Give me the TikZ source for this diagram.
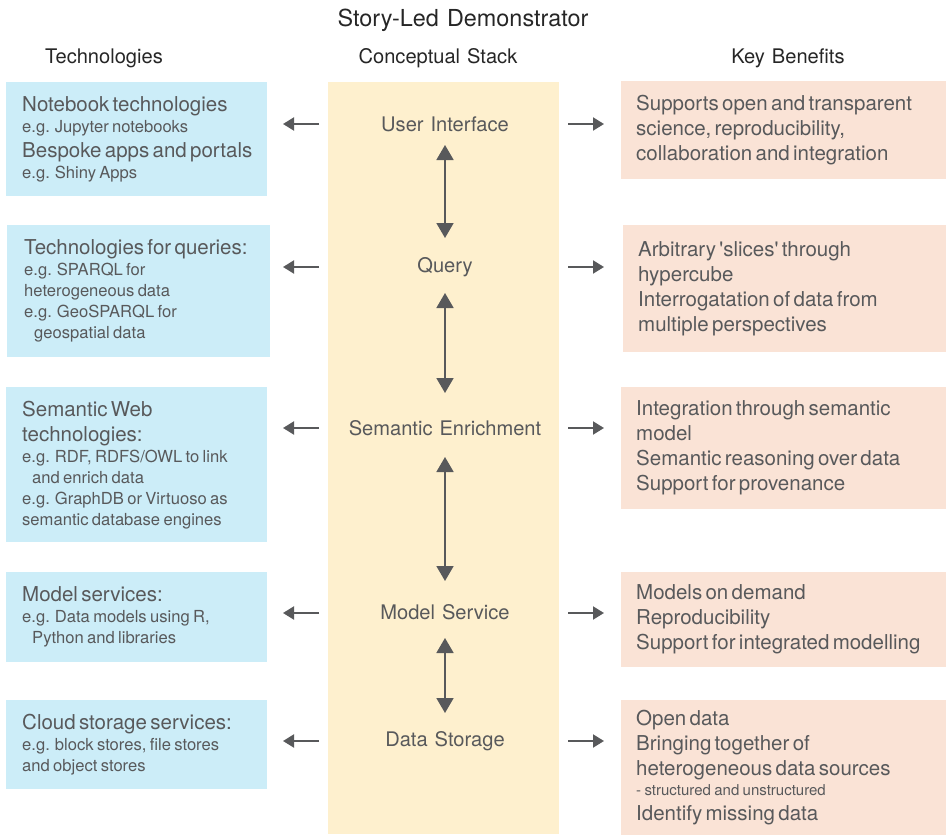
\documentclass[tikz,border=0pt]{standalone}
\usepackage{fontspec}
\setmainfont[WordSpace=1.25]{TeX Gyre Heros}
\newfontfamily\rawheros[WordSpace=1.25]{TeX Gyre Heros}
\usetikzlibrary{arrows.meta}
\definecolor{techblue}{HTML}{CCEDF8}
\definecolor{stackyellow}{HTML}{FEF0CE}
\definecolor{benefitpeach}{HTML}{FAE3D6}
\definecolor{txtgray}{HTML}{58595B}
\definecolor{arrowgray}{HTML}{58595B}
\setlength\parindent{0pt}
\setlength\parskip{0pt}
\newcommand\bigln[1]{{\fontsize{20.5}{25}\selectfont\mbox{#1}\par}}
\newcommand\smln[1]{{\fontsize{16.6}{21}\selectfont\mbox{#1}\par}}
\newcommand\tinyln[1]{{\fontsize{15}{20}\selectfont\mbox{#1}\par}}
\tikzset{
  techbox/.style={fill=techblue, anchor=north west, minimum width=261pt, text width=229pt, inner xsep=16pt, inner ysep=0pt, align=left, text=txtgray},
  benbox/.style={fill=benefitpeach, anchor=north west, minimum width=325pt, text width=295pt, inner xsep=15pt, inner ysep=0pt, align=left, text=txtgray},
  stackbox/.style={fill=stackyellow, anchor=north west, minimum width=231pt, minimum height=752pt, inner sep=0pt},
  layer/.style={text=txtgray, font=\fontsize{20.1}{23}\selectfont, inner sep=0pt},
  header/.style={text=black!85, font=\fontsize{20.1}{23}\selectfont, inner sep=0pt},
  sidearrow/.style={draw=arrowgray, line width=2pt, -{Triangle[length=11pt,width=13pt]}, arrowgray},
  vertarrow/.style={draw=arrowgray, line width=1.8pt, {Triangle[length=15pt,width=17pt]}-{Triangle[length=15pt,width=17pt]}, arrowgray}
}
\begin{document}
\begin{tikzpicture}[x=1pt,y=-1pt]
\useasboundingbox (0,0) rectangle (946,835);
% titles
\node[header, font=\fontsize{23.4}{26}\selectfont] (title) at (463,20) {Story-Led Demonstrator};
\node[header] (htech) at (104,58) {Technologies};
\node[header] (hstack) at (438,58) {Conceptual Stack};
\node[header] (hben) at (788,58) {Key Benefits};
% central stack
\node[stackbox] (stack) at (328,82) {};
\node[layer] (ui) at (445,124) {User Interface};
\node[layer] (query) at (445,267) {Query};
\node[layer] (sem) at (445,428) {Semantic Enrichment};
\node[layer] (model) at (445,612) {Model Service};
\node[layer] (data) at (445,741) {Data Storage};
% technologies
\node[techbox, minimum height=114pt] (t1) at (6,82) {\bigln{Notebook technologies}\smln{e.g. Jupyter notebooks}\bigln{Bespoke apps and portals}\smln{e.g. Shiny Apps}};
\node[techbox, minimum height=132pt, inner xsep=17pt] (t2) at (7,225) {\bigln{Technologies for queries:}\smln{e.g. SPARQL for}\smln{heterogeneous data}\smln{e.g. GeoSPARQL for}\smln{\hspace*{10pt}geospatial data}};
\node[techbox, minimum height=155pt] (t3) at (6,387) {\bigln{Semantic Web}\bigln{technologies:}\smln{e.g. RDF, RDFS/OWL to link}\smln{\hspace*{10pt}and enrich data}\smln{e.g. GraphDB or Virtuoso as}\smln{semantic database engines}};
\node[techbox, minimum height=90pt] (t4) at (6,572) {\bigln{Model services:}\smln{e.g. Data models using R,}\smln{\hspace*{10pt}Python and libraries}};
\node[techbox, minimum height=89pt] (t5) at (6,700) {\bigln{Cloud storage services:}\smln{e.g. block stores, file stores}\smln{and object stores}};
% benefits
\node[benbox, minimum height=98pt] (k1) at (621,81) {\bigln{Supports open and transparent}\bigln{science, reproducibility,}\bigln{collaboration and integration}};
\node[benbox, minimum height=127pt, minimum width=323pt, text width=293pt] (k2) at (623,225) {\bigln{\rawheros Arbitrary 'slices' through}\bigln{hypercube}\bigln{Interrogatation of data from}\bigln{multiple perspectives}};
\node[benbox, minimum height=122pt] (k3) at (621,387) {\bigln{Integration through semantic}\bigln{model}\bigln{Semantic reasoning over data}\bigln{Support for provenance}};
\node[benbox, minimum height=95pt] (k4) at (621,572) {\bigln{Models on demand}\bigln{Reproducibility}\bigln{Support for integrated modelling}};
\node[benbox, minimum height=135pt] (k5) at (621,700) {\bigln{Open data}\bigln{Bringing together of}\bigln{heterogeneous data sources}\tinyln{- structured and unstructured}\bigln{Identify missing data}};
% arrow end coordinates
\foreach \n/\y in {ui/124, query/267, sem/428, model/613, data/741}{
  \coordinate (\n-ls) at (319,\y);
  \coordinate (\n-le) at (283,\y);
  \coordinate (\n-rs) at (568,\y);
  \coordinate (\n-re) at (604,\y);
}
\foreach \n in {ui, query, sem, model, data}{
  \draw[sidearrow] (\n-ls) -- (\n-le);
  \draw[sidearrow] (\n-rs) -- (\n-re);
}
\coordinate (v1a) at (445,145); \coordinate (v1b) at (445,238);
\coordinate (v2a) at (445,293); \coordinate (v2b) at (445,393);
\coordinate (v3a) at (445,457); \coordinate (v3b) at (445,581);
\coordinate (v4a) at (445,638); \coordinate (v4b) at (445,713);
\draw[vertarrow] (v1a) -- (v1b);
\draw[vertarrow] (v2a) -- (v2b);
\draw[vertarrow] (v3a) -- (v3b);
\draw[vertarrow] (v4a) -- (v4b);
\end{tikzpicture}
\end{document}
